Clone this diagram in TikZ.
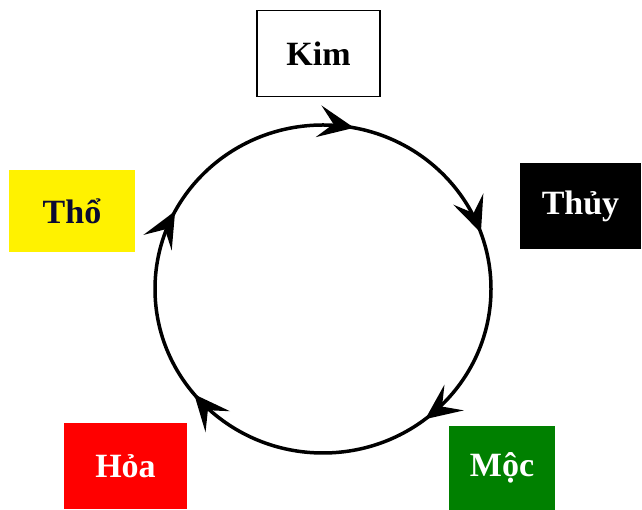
\documentclass[tikz,border=0pt]{standalone}
\usepackage{fontspec}
\setmainfont{Liberation Serif}
\usetikzlibrary{arrows.meta,decorations.markings}
\definecolor{mocgreen}{RGB}{0,128,0}
\definecolor{thotext}{RGB}{10,10,50}
\begin{document}
\begin{tikzpicture}[x=1pt,y=1pt,
    elem/.style={minimum width=123pt,minimum height=86pt,inner sep=0pt,
                 font=\fontsize{34}{38}\selectfont\bfseries},
    cyc/.style={line width=3.5pt,
                postaction={decorate,decoration={markings,
                  mark=at position 0.03 with {\arrow{Stealth[length=36pt,width=32pt,inset=15pt]}},
                  mark=at position 0.195 with {\arrow{Stealth[length=36pt,width=32pt,inset=15pt]}},
                  mark=at position 0.395 with {\arrow{Stealth[length=36pt,width=32pt,inset=15pt]}},
                  mark=at position 0.64 with {\arrow{Stealth[length=36pt,width=32pt,inset=15pt]}},
                  mark=at position 0.828 with {\arrow{Stealth[length=36pt,width=32pt,inset=15pt]}}}}}]
    \useasboundingbox (0,0) rectangle (642,510);
        \node[elem, draw, line width=1.5pt, fill=white] (kim) at (318.5,456.5) {Kim};
        \node[elem, fill=black, text=white, minimum width=121pt] (thuy) at (580.5,303.5) {Thủy};
        \node[elem, fill=yellow, text=thotext, minimum width=126pt, minimum height=82pt] (tho) at (72,299) {Thổ};
        \node[elem, fill=red, text=white] (hoa) at (125.5,44) {Hỏa};
        \node[elem, fill=mocgreen, text=white, minimum width=106pt, minimum height=84pt] (moc) at (502,42) {Mộc};
        \coordinate (centre) at (323,221);
        % the cycle, clockwise
        \draw[cyc] (centre) ++(90:168 and 164) arc[start angle=90, end angle=-270, x radius=168, y radius=164];
    \end{tikzpicture}
\end{document}
